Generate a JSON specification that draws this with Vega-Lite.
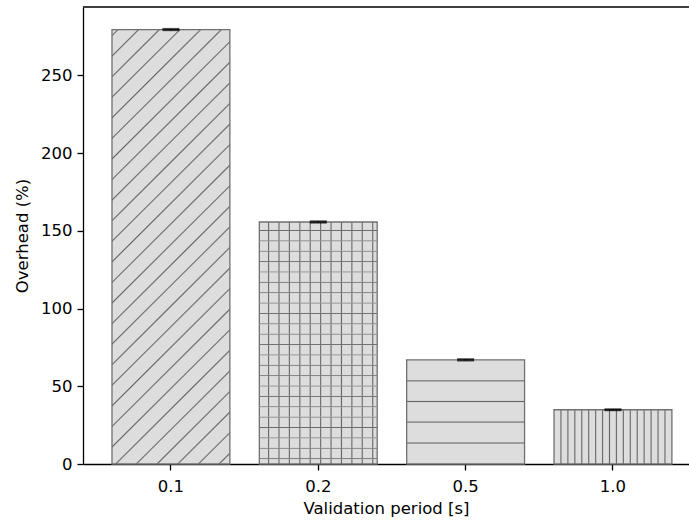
{
  "$schema": "https://vega.github.io/schema/vega-lite/v6.json",
  "width": 606,
  "height": 457,
  "autosize": {"type": "none"},
  "padding": {"left": 83, "top": 7, "right": 0, "bottom": 56},
  "data": {
    "values": [
      {"period": "0.1", "overhead": 279.5, "err": 0.4},
      {"period": "0.2", "overhead": 155.7, "err": 0.4},
      {"period": "0.5", "overhead": 67.0, "err": 0.4},
      {"period": "1.0", "overhead": 34.9, "err": 0.3}
    ]
  },
  "config": {
    "view": {"stroke": null},
    "font": "DejaVu Sans",
    "axis": {
      "grid": false,
      "domainColor": "black",
      "domainWidth": 1.3,
      "tickColor": "black",
      "tickWidth": 1.3,
      "tickSize": 6,
      "labelFont": "DejaVu Sans",
      "labelFontSize": 16.5,
      "labelColor": "black",
      "titleFont": "DejaVu Sans",
      "titleFontSize": 16.5,
      "titleFontWeight": "normal",
      "titleColor": "black"
    }
  },
  "layer": [
    {
      "transform": [{"filter": "datum.period == '0.1'"}],
      "mark": {
        "type": "bar",
        "stroke": "#707070",
        "strokeWidth": 1.3,
        "fill": {
          "gradient": "linear", "x1": 0, "y1": 0, "x2": 0.3195, "y2": 1.1837,
          "stops": [
            {"offset": 0, "color": "#dddddd"},
            {"offset": 0.0081, "color": "#dddddd"}, {"offset": 0.0109, "color": "#666666"}, {"offset": 0.0137, "color": "#dddddd"},
            {"offset": 0.0454, "color": "#dddddd"}, {"offset": 0.0482, "color": "#666666"}, {"offset": 0.0510, "color": "#dddddd"},
            {"offset": 0.0827, "color": "#dddddd"}, {"offset": 0.0855, "color": "#666666"}, {"offset": 0.0883, "color": "#dddddd"},
            {"offset": 0.1199, "color": "#dddddd"}, {"offset": 0.1227, "color": "#666666"}, {"offset": 0.1255, "color": "#dddddd"},
            {"offset": 0.1572, "color": "#dddddd"}, {"offset": 0.1600, "color": "#666666"}, {"offset": 0.1628, "color": "#dddddd"},
            {"offset": 0.1945, "color": "#dddddd"}, {"offset": 0.1973, "color": "#666666"}, {"offset": 0.2001, "color": "#dddddd"},
            {"offset": 0.2318, "color": "#dddddd"}, {"offset": 0.2346, "color": "#666666"}, {"offset": 0.2374, "color": "#dddddd"},
            {"offset": 0.2691, "color": "#dddddd"}, {"offset": 0.2719, "color": "#666666"}, {"offset": 0.2747, "color": "#dddddd"},
            {"offset": 0.3064, "color": "#dddddd"}, {"offset": 0.3092, "color": "#666666"}, {"offset": 0.3120, "color": "#dddddd"},
            {"offset": 0.3437, "color": "#dddddd"}, {"offset": 0.3465, "color": "#666666"}, {"offset": 0.3493, "color": "#dddddd"},
            {"offset": 0.3810, "color": "#dddddd"}, {"offset": 0.3838, "color": "#666666"}, {"offset": 0.3866, "color": "#dddddd"},
            {"offset": 0.4183, "color": "#dddddd"}, {"offset": 0.4211, "color": "#666666"}, {"offset": 0.4239, "color": "#dddddd"},
            {"offset": 0.4556, "color": "#dddddd"}, {"offset": 0.4584, "color": "#666666"}, {"offset": 0.4612, "color": "#dddddd"},
            {"offset": 0.4929, "color": "#dddddd"}, {"offset": 0.4957, "color": "#666666"}, {"offset": 0.4985, "color": "#dddddd"},
            {"offset": 0.5302, "color": "#dddddd"}, {"offset": 0.5330, "color": "#666666"}, {"offset": 0.5358, "color": "#dddddd"},
            {"offset": 0.5674, "color": "#dddddd"}, {"offset": 0.5702, "color": "#666666"}, {"offset": 0.5730, "color": "#dddddd"},
            {"offset": 0.6047, "color": "#dddddd"}, {"offset": 0.6075, "color": "#666666"}, {"offset": 0.6103, "color": "#dddddd"},
            {"offset": 0.6420, "color": "#dddddd"}, {"offset": 0.6448, "color": "#666666"}, {"offset": 0.6476, "color": "#dddddd"},
            {"offset": 0.6793, "color": "#dddddd"}, {"offset": 0.6821, "color": "#666666"}, {"offset": 0.6849, "color": "#dddddd"},
            {"offset": 0.7166, "color": "#dddddd"}, {"offset": 0.7194, "color": "#666666"}, {"offset": 0.7222, "color": "#dddddd"},
            {"offset": 0.7539, "color": "#dddddd"}, {"offset": 0.7567, "color": "#666666"}, {"offset": 0.7595, "color": "#dddddd"},
            {"offset": 0.7912, "color": "#dddddd"}, {"offset": 0.7940, "color": "#666666"}, {"offset": 0.7968, "color": "#dddddd"},
            {"offset": 0.8285, "color": "#dddddd"}, {"offset": 0.8313, "color": "#666666"}, {"offset": 0.8341, "color": "#dddddd"},
            {"offset": 0.8658, "color": "#dddddd"}, {"offset": 0.8686, "color": "#666666"}, {"offset": 0.8714, "color": "#dddddd"},
            {"offset": 0.9031, "color": "#dddddd"}, {"offset": 0.9059, "color": "#666666"}, {"offset": 0.9087, "color": "#dddddd"},
            {"offset": 0.9404, "color": "#dddddd"}, {"offset": 0.9432, "color": "#666666"}, {"offset": 0.9460, "color": "#dddddd"},
            {"offset": 0.9777, "color": "#dddddd"}, {"offset": 0.9805, "color": "#666666"}, {"offset": 0.9833, "color": "#dddddd"},
            {"offset": 1, "color": "#dddddd"}
          ]
        }
      },
      "encoding": {
        "x": {
          "field": "period", "type": "nominal", "sort": null,
          "scale": {"paddingInner": 0.2, "paddingOuter": 0.1564, "align": 0.629},
          "axis": {"title": "Validation period [s]", "labelAngle": 0, "labelPadding": 8, "titlePadding": 6}
        },
        "y": {
          "field": "overhead", "type": "quantitative",
          "scale": {"domain": [0, 294], "nice": false},
          "axis": {"title": "Overhead (%)", "values": [0, 50, 100, 150, 200, 250], "labelPadding": 5, "titlePadding": 10}
        }
      }
    },
    {
      "transform": [{"filter": "datum.period == '0.2'"}],
      "mark": {
        "type": "bar",
        "stroke": "#707070",
        "strokeWidth": 1.3,
        "fill": {
          "gradient": "linear", "x1": 0, "y1": 0, "x2": 1, "y2": 0,
          "stops": [
            {"offset": 0, "color": "#dddddd"},
            {"offset": 0.0690, "color": "#dddddd"}, {"offset": 0.0784, "color": "#666666"}, {"offset": 0.0878, "color": "#dddddd"},
            {"offset": 0.1573, "color": "#dddddd"}, {"offset": 0.1667, "color": "#666666"}, {"offset": 0.1761, "color": "#dddddd"},
            {"offset": 0.2456, "color": "#dddddd"}, {"offset": 0.2550, "color": "#666666"}, {"offset": 0.2644, "color": "#dddddd"},
            {"offset": 0.3340, "color": "#dddddd"}, {"offset": 0.3434, "color": "#666666"}, {"offset": 0.3528, "color": "#dddddd"},
            {"offset": 0.4223, "color": "#dddddd"}, {"offset": 0.4317, "color": "#666666"}, {"offset": 0.4411, "color": "#dddddd"},
            {"offset": 0.5106, "color": "#dddddd"}, {"offset": 0.5200, "color": "#666666"}, {"offset": 0.5294, "color": "#dddddd"},
            {"offset": 0.5989, "color": "#dddddd"}, {"offset": 0.6083, "color": "#666666"}, {"offset": 0.6177, "color": "#dddddd"},
            {"offset": 0.6873, "color": "#dddddd"}, {"offset": 0.6967, "color": "#666666"}, {"offset": 0.7061, "color": "#dddddd"},
            {"offset": 0.7756, "color": "#dddddd"}, {"offset": 0.7850, "color": "#666666"}, {"offset": 0.7944, "color": "#dddddd"},
            {"offset": 0.8639, "color": "#dddddd"}, {"offset": 0.8733, "color": "#666666"}, {"offset": 0.8827, "color": "#dddddd"},
            {"offset": 0.9523, "color": "#dddddd"}, {"offset": 0.9617, "color": "#666666"}, {"offset": 0.9711, "color": "#dddddd"},
            {"offset": 1, "color": "#dddddd"}
          ]
        }
      },
      "encoding": {
        "x": {"field": "period", "type": "nominal", "sort": null},
        "y": {"field": "overhead", "type": "quantitative"}
      }
    },
    {
      "transform": [{"filter": "datum.period == '0.2'"}],
      "mark": {
        "type": "bar",
        "fill": {
          "gradient": "linear", "x1": 0, "y1": 0, "x2": 0, "y2": 1,
          "stops": [
            {"offset": 0, "color": "rgba(221,221,221,0)"},
            {"offset": 0.0306, "color": "rgba(221,221,221,0)"}, {"offset": 0.0351, "color": "#666666"}, {"offset": 0.0396, "color": "rgba(221,221,221,0)"},
            {"offset": 0.0735, "color": "rgba(221,221,221,0)"}, {"offset": 0.0780, "color": "#666666"}, {"offset": 0.0825, "color": "rgba(221,221,221,0)"},
            {"offset": 0.1163, "color": "rgba(221,221,221,0)"}, {"offset": 0.1208, "color": "#666666"}, {"offset": 0.1253, "color": "rgba(221,221,221,0)"},
            {"offset": 0.1592, "color": "rgba(221,221,221,0)"}, {"offset": 0.1637, "color": "#666666"}, {"offset": 0.1682, "color": "rgba(221,221,221,0)"},
            {"offset": 0.2020, "color": "rgba(221,221,221,0)"}, {"offset": 0.2065, "color": "#666666"}, {"offset": 0.2110, "color": "rgba(221,221,221,0)"},
            {"offset": 0.2449, "color": "rgba(221,221,221,0)"}, {"offset": 0.2494, "color": "#666666"}, {"offset": 0.2539, "color": "rgba(221,221,221,0)"},
            {"offset": 0.2877, "color": "rgba(221,221,221,0)"}, {"offset": 0.2922, "color": "#666666"}, {"offset": 0.2967, "color": "rgba(221,221,221,0)"},
            {"offset": 0.3306, "color": "rgba(221,221,221,0)"}, {"offset": 0.3351, "color": "#666666"}, {"offset": 0.3396, "color": "rgba(221,221,221,0)"},
            {"offset": 0.3734, "color": "rgba(221,221,221,0)"}, {"offset": 0.3779, "color": "#666666"}, {"offset": 0.3824, "color": "rgba(221,221,221,0)"},
            {"offset": 0.4163, "color": "rgba(221,221,221,0)"}, {"offset": 0.4208, "color": "#666666"}, {"offset": 0.4253, "color": "rgba(221,221,221,0)"},
            {"offset": 0.4591, "color": "rgba(221,221,221,0)"}, {"offset": 0.4636, "color": "#666666"}, {"offset": 0.4681, "color": "rgba(221,221,221,0)"},
            {"offset": 0.5020, "color": "rgba(221,221,221,0)"}, {"offset": 0.5065, "color": "#666666"}, {"offset": 0.5110, "color": "rgba(221,221,221,0)"},
            {"offset": 0.5448, "color": "rgba(221,221,221,0)"}, {"offset": 0.5493, "color": "#666666"}, {"offset": 0.5538, "color": "rgba(221,221,221,0)"},
            {"offset": 0.5877, "color": "rgba(221,221,221,0)"}, {"offset": 0.5922, "color": "#666666"}, {"offset": 0.5967, "color": "rgba(221,221,221,0)"},
            {"offset": 0.6305, "color": "rgba(221,221,221,0)"}, {"offset": 0.6350, "color": "#666666"}, {"offset": 0.6395, "color": "rgba(221,221,221,0)"},
            {"offset": 0.6734, "color": "rgba(221,221,221,0)"}, {"offset": 0.6779, "color": "#666666"}, {"offset": 0.6824, "color": "rgba(221,221,221,0)"},
            {"offset": 0.7162, "color": "rgba(221,221,221,0)"}, {"offset": 0.7207, "color": "#666666"}, {"offset": 0.7252, "color": "rgba(221,221,221,0)"},
            {"offset": 0.7591, "color": "rgba(221,221,221,0)"}, {"offset": 0.7636, "color": "#666666"}, {"offset": 0.7681, "color": "rgba(221,221,221,0)"},
            {"offset": 0.8019, "color": "rgba(221,221,221,0)"}, {"offset": 0.8064, "color": "#666666"}, {"offset": 0.8109, "color": "rgba(221,221,221,0)"},
            {"offset": 0.8448, "color": "rgba(221,221,221,0)"}, {"offset": 0.8493, "color": "#666666"}, {"offset": 0.8538, "color": "rgba(221,221,221,0)"},
            {"offset": 0.8876, "color": "rgba(221,221,221,0)"}, {"offset": 0.8921, "color": "#666666"}, {"offset": 0.8966, "color": "rgba(221,221,221,0)"},
            {"offset": 0.9305, "color": "rgba(221,221,221,0)"}, {"offset": 0.9350, "color": "#666666"}, {"offset": 0.9395, "color": "rgba(221,221,221,0)"},
            {"offset": 0.9734, "color": "rgba(221,221,221,0)"}, {"offset": 0.9779, "color": "#666666"}, {"offset": 0.9824, "color": "rgba(221,221,221,0)"},
            {"offset": 1, "color": "rgba(221,221,221,0)"}
          ]
        }
      },
      "encoding": {
        "x": {"field": "period", "type": "nominal", "sort": null},
        "y": {"field": "overhead", "type": "quantitative"}
      }
    },
    {
      "transform": [{"filter": "datum.period == '0.5'"}],
      "mark": {
        "type": "bar",
        "stroke": "#707070",
        "strokeWidth": 1.3,
        "fill": {
          "gradient": "linear", "x1": 0, "y1": 0, "x2": 0, "y2": 1,
          "stops": [
            {"offset": 0, "color": "#dddddd"},
            {"offset": 0.1908, "color": "#dddddd"}, {"offset": 0.2013, "color": "#666666"}, {"offset": 0.2118, "color": "#dddddd"},
            {"offset": 0.3893, "color": "#dddddd"}, {"offset": 0.3998, "color": "#666666"}, {"offset": 0.4103, "color": "#dddddd"},
            {"offset": 0.5868, "color": "#dddddd"}, {"offset": 0.5973, "color": "#666666"}, {"offset": 0.6078, "color": "#dddddd"},
            {"offset": 0.7882, "color": "#dddddd"}, {"offset": 0.7987, "color": "#666666"}, {"offset": 0.8092, "color": "#dddddd"},
            {"offset": 1, "color": "#dddddd"}
          ]
        }
      },
      "encoding": {
        "x": {"field": "period", "type": "nominal", "sort": null},
        "y": {"field": "overhead", "type": "quantitative"}
      }
    },
    {
      "transform": [{"filter": "datum.period == '1.0'"}],
      "mark": {
        "type": "bar",
        "stroke": "#707070",
        "strokeWidth": 1.3,
        "fill": {
          "gradient": "linear", "x1": 0, "y1": 0, "x2": 1, "y2": 0,
          "stops": [
            {"offset": 0, "color": "#dddddd"},
            {"offset": 0.0494, "color": "#dddddd"}, {"offset": 0.0588, "color": "#666666"}, {"offset": 0.0682, "color": "#dddddd"},
            {"offset": 0.1082, "color": "#dddddd"}, {"offset": 0.1176, "color": "#666666"}, {"offset": 0.1270, "color": "#dddddd"},
            {"offset": 0.1671, "color": "#dddddd"}, {"offset": 0.1765, "color": "#666666"}, {"offset": 0.1859, "color": "#dddddd"},
            {"offset": 0.2259, "color": "#dddddd"}, {"offset": 0.2353, "color": "#666666"}, {"offset": 0.2447, "color": "#dddddd"},
            {"offset": 0.2847, "color": "#dddddd"}, {"offset": 0.2941, "color": "#666666"}, {"offset": 0.3035, "color": "#dddddd"},
            {"offset": 0.3435, "color": "#dddddd"}, {"offset": 0.3529, "color": "#666666"}, {"offset": 0.3623, "color": "#dddddd"},
            {"offset": 0.4024, "color": "#dddddd"}, {"offset": 0.4118, "color": "#666666"}, {"offset": 0.4212, "color": "#dddddd"},
            {"offset": 0.4612, "color": "#dddddd"}, {"offset": 0.4706, "color": "#666666"}, {"offset": 0.4800, "color": "#dddddd"},
            {"offset": 0.5200, "color": "#dddddd"}, {"offset": 0.5294, "color": "#666666"}, {"offset": 0.5388, "color": "#dddddd"},
            {"offset": 0.5788, "color": "#dddddd"}, {"offset": 0.5882, "color": "#666666"}, {"offset": 0.5976, "color": "#dddddd"},
            {"offset": 0.6377, "color": "#dddddd"}, {"offset": 0.6471, "color": "#666666"}, {"offset": 0.6565, "color": "#dddddd"},
            {"offset": 0.6965, "color": "#dddddd"}, {"offset": 0.7059, "color": "#666666"}, {"offset": 0.7153, "color": "#dddddd"},
            {"offset": 0.7553, "color": "#dddddd"}, {"offset": 0.7647, "color": "#666666"}, {"offset": 0.7741, "color": "#dddddd"},
            {"offset": 0.8141, "color": "#dddddd"}, {"offset": 0.8235, "color": "#666666"}, {"offset": 0.8329, "color": "#dddddd"},
            {"offset": 0.8730, "color": "#dddddd"}, {"offset": 0.8824, "color": "#666666"}, {"offset": 0.8918, "color": "#dddddd"},
            {"offset": 0.9318, "color": "#dddddd"}, {"offset": 0.9412, "color": "#666666"}, {"offset": 0.9506, "color": "#dddddd"},
            {"offset": 1, "color": "#dddddd"}
          ]
        }
      },
      "encoding": {
        "x": {"field": "period", "type": "nominal", "sort": null},
        "y": {"field": "overhead", "type": "quantitative"}
      }
    },
    {
      "mark": {
        "type": "errorbar",
        "color": "black",
        "ticks": {"size": 17, "thickness": 2, "color": "black"},
        "rule": {"color": "black", "strokeWidth": 1.5}
      },
      "encoding": {
        "x": {"field": "period", "type": "nominal", "sort": null},
        "y": {"field": "overhead", "type": "quantitative", "title": "Overhead (%)"},
        "yError": {"field": "err"}
      }
    },
    {
      "data": {"values": [{}]},
      "mark": {"type": "rule", "color": "black", "strokeWidth": 1.3},
      "encoding": {"y": {"datum": 294}}
    }
  ]
}
